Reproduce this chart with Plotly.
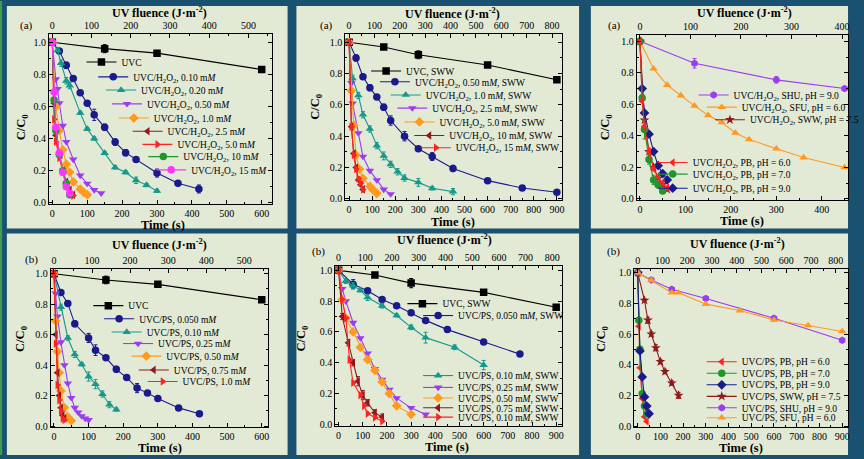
import plotly.graph_objects as go

W, H = 864, 459
FONT = "Liberation Serif"

# ---------------- data (time s, C/C0, error) ----------------
# Panel 1: UVC/H2O2 in PB
p1_uvc_t = [0, 150, 300, 600]
p1_uvc_y = [1.0, 0.96, 0.932, 0.83]
p1_uvc_e = [0, 0.025, 0.01, 0.01]
p1_h010_t = [0, 20, 40, 60, 80, 100, 120, 150, 180, 210, 240, 300, 360, 420]
p1_h010_y = [1.0, 0.945, 0.856, 0.774, 0.686, 0.62, 0.548, 0.47, 0.378, 0.312, 0.269, 0.185, 0.121, 0.086]
p1_h010_e = [0, 0.01, 0.02, 0.015, 0.01, 0.01, 0.035, 0.02, 0.02, 0.02, 0.01, 0.025, 0.015, 0.025]
p1_h020_t = [0, 15, 25, 40, 50, 80, 100, 120, 150, 180, 210, 240, 270, 300]
p1_h020_y = [1.0, 0.95, 0.87, 0.76, 0.73, 0.56, 0.46, 0.40, 0.31, 0.22, 0.19, 0.14, 0.11, 0.074]
p1_h020_e = [0, 0.01, 0.02, 0.02, 0.02, 0.01, 0.01, 0.01, 0.01, 0.01, 0.01, 0.02, 0.01, 0.01]
p1_h050_t = [0, 10, 15, 20, 30, 40, 60, 80, 100, 120, 140]
p1_h050_y = [1.0, 0.77, 0.71, 0.62, 0.48, 0.38, 0.27, 0.17, 0.12, 0.08, 0.06]
p1_h10_t = [0, 10, 20, 30, 40, 50, 60, 80, 90, 100]
p1_h10_y = [1.0, 0.60, 0.45, 0.33, 0.24, 0.19, 0.13, 0.085, 0.065, 0.05]
p1_h25_t = [0, 5, 10, 20, 30, 40, 50, 60]
p1_h25_y = [1.0, 0.62, 0.42, 0.30, 0.20, 0.13, 0.08, 0.05]
p1_h50_t = [0, 5, 10, 20, 30, 40, 50, 60]
p1_h50_y = [1.0, 0.52, 0.38, 0.28, 0.19, 0.11, 0.07, 0.045]
p1_h100_t = [0, 5, 10, 20, 30, 40, 50]
p1_h100_y = [1.0, 0.64, 0.45, 0.30, 0.20, 0.12, 0.05]
p1_h150_t = [0, 5, 10, 20, 30, 40, 50]
p1_h150_y = [1.0, 0.69, 0.47, 0.31, 0.19, 0.10, 0.06]

# Panel 2: UVC/H2O2 in SWW
p2_uvc_t = [0, 150, 300, 600, 900]
p2_uvc_y = [1.0, 0.97, 0.92, 0.855, 0.76]
p2_uvc_e = [0, 0.01, 0.025, 0.01, 0.015]
p2_h050_t = [0, 30, 60, 90, 120, 150, 180, 240, 300, 360, 450, 600, 750, 900]
p2_h050_y = [1.0, 0.90, 0.78, 0.71, 0.65, 0.585, 0.50, 0.40, 0.32, 0.27, 0.194, 0.116, 0.069, 0.042]
p2_h050_e = [0, 0.02, 0.015, 0.02, 0.015, 0.02, 0.03, 0.03, 0.01, 0.025, 0.02, 0.01, 0.01, 0.01]
p2_h10_t = [0, 15, 40, 60, 90, 120, 150, 180, 210, 240, 300, 360, 450]
p2_h10_y = [1.0, 0.77, 0.66, 0.537, 0.446, 0.34, 0.274, 0.22, 0.173, 0.133, 0.105, 0.067, 0.046]
p2_h10_e = [0, 0.02, 0.02, 0.02, 0.02, 0.02, 0.025, 0.02, 0.02, 0.02, 0.025, 0.01, 0.02]
p2_h25_t = [0, 10, 15, 40, 60, 90, 120, 150, 180]
p2_h25_y = [1.0, 0.74, 0.61, 0.42, 0.27, 0.18, 0.12, 0.06, 0.03]
p2_h50_t = [0, 10, 20, 30, 45, 60, 90, 105, 120]
p2_h50_y = [1.0, 0.69, 0.47, 0.28, 0.19, 0.13, 0.08, 0.055, 0.035]
p2_h100_t = [0, 10, 20, 30, 40, 50, 60]
p2_h100_y = [1.0, 0.46, 0.29, 0.20, 0.12, 0.09, 0.06]
p2_h150_t = [0, 10, 20, 30, 40, 50, 60]
p2_h150_y = [1.0, 0.46, 0.28, 0.19, 0.13, 0.10, 0.06]

# Panel 3: UVC/H2O2 in different matrices
p3_shu_t = [0, 120, 300, 450]
p3_shu_y = [1.0, 0.86, 0.755, 0.70]
p3_shu_e = [0, 0.03, 0.02, 0.01]
p3_sfu_t = [0, 30, 60, 90, 120, 150, 180, 210, 240, 300, 360, 450]
p3_sfu_y = [1.0, 0.826, 0.722, 0.655, 0.59, 0.53, 0.485, 0.418, 0.377, 0.318, 0.262, 0.199]
p3_sww_t = [0, 10, 20, 30, 40, 50, 60]
p3_sww_y = [1.0, 0.50, 0.30, 0.20, 0.13, 0.09, 0.06]
p3_pb6_t = [0, 5, 10, 20, 30, 40, 50, 60]
p3_pb6_y = [1.0, 0.62, 0.46, 0.30, 0.19, 0.14, 0.10, 0.07]
p3_pb7_t = [0, 5, 10, 20, 30, 40, 50]
p3_pb7_y = [1.0, 0.64, 0.44, 0.25, 0.12, 0.09, 0.05]
p3_pb7_e = [0, 0.02, 0.06, 0.03, 0.03, 0.02, 0.01]
p3_pb9_t = [0, 5, 10, 20, 30, 40, 50, 60]
p3_pb9_y = [1.0, 0.70, 0.545, 0.41, 0.30, 0.21, 0.16, 0.12]

# Panel 4: UVC/PS in PB
p4_uvc_t = [0, 150, 300, 600]
p4_uvc_y = [1.0, 0.959, 0.93, 0.829]
p4_uvc_e = [0, 0.025, 0.01, 0.01]
p4_p0050_t = [0, 20, 40, 60, 100, 120, 150, 180, 210, 240, 270, 300, 360, 420]
p4_p0050_y = [1.0, 0.877, 0.805, 0.671, 0.578, 0.498, 0.448, 0.372, 0.318, 0.249, 0.216, 0.18, 0.119, 0.08]
p4_p0050_e = [0, 0.01, 0.015, 0.02, 0.03, 0.035, 0.01, 0.02, 0.01, 0.03, 0.01, 0.01, 0.01, 0.01]
p4_p010_t = [0, 20, 40, 60, 80, 100, 120, 140, 160, 180]
p4_p010_y = [1.0, 0.78, 0.578, 0.47, 0.405, 0.325, 0.275, 0.21, 0.14, 0.108]
p4_p010_e = [0, 0.02, 0.015, 0.02, 0.01, 0.03, 0.03, 0.02, 0.02, 0.01]
p4_p025_t = [0, 5, 10, 20, 30, 40, 50, 60, 70, 80, 90, 100]
p4_p025_y = [1.0, 0.87, 0.72, 0.55, 0.40, 0.28, 0.185, 0.12, 0.09, 0.065, 0.05, 0.04]
p4_p050_t = [0, 5, 10, 15, 20, 30, 40, 50]
p4_p050_y = [1.0, 0.69, 0.49, 0.35, 0.23, 0.12, 0.06, 0.035]
p4_p075_t = [0, 5, 10, 15, 20, 25, 30]
p4_p075_y = [1.0, 0.60, 0.35, 0.20, 0.12, 0.07, 0.05]
p4_p100_t = [0, 5, 10, 15, 20, 25, 30]
p4_p100_y = [1.0, 0.54, 0.27, 0.17, 0.10, 0.05, 0.04]

# Panel 5: UVC/PS in SWW
p5_uvc_t = [0, 150, 300, 600, 900]
p5_uvc_y = [1.0, 0.97, 0.917, 0.857, 0.76]
p5_uvc_e = [0, 0.01, 0.03, 0.01, 0.015]
p5_p0050_t = [0, 60, 120, 180, 240, 300, 360, 450, 600, 750]
p5_p0050_y = [1.0, 0.91, 0.867, 0.81, 0.77, 0.724, 0.675, 0.615, 0.535, 0.456]
p5_p0050_e = [0, 0.03, 0.01, 0.01, 0.01, 0.01, 0.01, 0.01, 0.01, 0.01]
p5_p010_t = [0, 30, 60, 90, 120, 180, 240, 300, 360, 480, 600]
p5_p010_y = [1.0, 0.93, 0.90, 0.87, 0.824, 0.77, 0.707, 0.63, 0.563, 0.50, 0.385]
p5_p010_e = [0, 0.015, 0.02, 0.01, 0.02, 0.015, 0.01, 0.015, 0.035, 0.015, 0.03]
p5_p025_t = [0, 15, 30, 60, 90, 120, 150, 180, 210, 240, 300, 360]
p5_p025_y = [1.0, 0.88, 0.80, 0.66, 0.56, 0.46, 0.36, 0.29, 0.225, 0.17, 0.107, 0.064]
p5_p050_t = [0, 15, 30, 60, 90, 120, 150, 180, 210, 240, 300]
p5_p050_y = [1.0, 0.81, 0.69, 0.60, 0.50, 0.42, 0.35, 0.275, 0.20, 0.12, 0.065]
p5_p075_t = [0, 15, 40, 60, 80, 100, 120, 150, 180]
p5_p075_y = [1.0, 0.70, 0.53, 0.40, 0.28, 0.19, 0.14, 0.075, 0.047]
p5_p075_e = [0, 0.02, 0.02, 0.02, 0.03, 0.03, 0.02, 0.02, 0.02]
p5_p100_t = [0, 15, 30, 45, 60, 90, 105, 120, 150, 180]
p5_p100_y = [1.0, 0.81, 0.69, 0.42, 0.27, 0.19, 0.12, 0.07, 0.045, 0.02]

# Panel 6: UVC/PS in different matrices
p6_pb6_t = [0, 5, 10, 20, 30, 40]
p6_pb6_y = [1.0, 0.65, 0.38, 0.18, 0.06, 0.03]
p6_pb7_t = [0, 5, 10, 20, 30, 40]
p6_pb7_y = [1.0, 0.69, 0.50, 0.21, 0.13, 0.08]
p6_pb9_t = [0, 10, 20, 30, 40, 50]
p6_pb9_y = [1.0, 0.49, 0.32, 0.19, 0.13, 0.08]
p6_sww_t = [0, 30, 45, 60, 80, 100, 120, 150, 180]
p6_sww_y = [1.0, 0.82, 0.69, 0.60, 0.51, 0.42, 0.355, 0.28, 0.20]
p6_sww_e = [0, 0.01, 0.02, 0.015, 0.02, 0.015, 0.015, 0.015, 0.02]
p6_shu_t = [0, 60, 150, 300, 600, 900]
p6_shu_y = [1.0, 0.953, 0.892, 0.832, 0.703, 0.559]
p6_sfu_t = [0, 60, 150, 180, 300, 450, 600, 750, 900]
p6_sfu_y = [1.0, 0.95, 0.87, 0.87, 0.795, 0.753, 0.692, 0.656, 0.617]

H2O2 = "UVC/H<sub>2</sub>O<sub>2</sub>"
mM = "m<i>M</i>"

# ---------------- styles ----------------
BLACK = "#000000"; NAVY = "#1a1a8c"; TEAL = "#16998a"; PURPLE = "#9b3cf2"
ORANGE = "#ff9a1f"; DRED = "#8c1a1a"; RED = "#ff2222"; GREEN = "#22962a"; MAGENTA = "#ff33ff"

# series: (panel, name, t, y, err, symbol, color)
series = [
    (1, "UVC", p1_uvc_t, p1_uvc_y, p1_uvc_e, "square", BLACK),
    (1, f"{H2O2}, 0.10 {mM}", p1_h010_t, p1_h010_y, p1_h010_e, "circle", NAVY),
    (1, f"{H2O2}, 0.20 {mM}", p1_h020_t, p1_h020_y, p1_h020_e, "triangle-up", TEAL),
    (1, f"{H2O2}, 0.50 {mM}", p1_h050_t, p1_h050_y, None, "triangle-down", PURPLE),
    (1, f"{H2O2}, 1.0 {mM}", p1_h10_t, p1_h10_y, None, "diamond", ORANGE),
    (1, f"{H2O2}, 2.5 {mM}", p1_h25_t, p1_h25_y, None, "triangle-left", DRED),
    (1, f"{H2O2}, 5.0 {mM}", p1_h50_t, p1_h50_y, None, "triangle-right", RED),
    (1, f"{H2O2}, 10 {mM}", p1_h100_t, p1_h100_y, None, "circle", GREEN),
    (1, f"{H2O2}, 15 {mM}", p1_h150_t, p1_h150_y, None, "circle", MAGENTA),
    (2, "UVC, SWW", p2_uvc_t, p2_uvc_y, p2_uvc_e, "square", BLACK),
    (2, f"{H2O2}, 0.50 {mM}, SWW", p2_h050_t, p2_h050_y, p2_h050_e, "circle", NAVY),
    (2, f"{H2O2}, 1.0 {mM}, SWW", p2_h10_t, p2_h10_y, p2_h10_e, "triangle-up", TEAL),
    (2, f"{H2O2}, 2.5 {mM}, SWW", p2_h25_t, p2_h25_y, None, "triangle-down", PURPLE),
    (2, f"{H2O2}, 5.0 {mM}, SWW", p2_h50_t, p2_h50_y, None, "diamond", ORANGE),
    (2, f"{H2O2}, 10 {mM}, SWW", p2_h100_t, p2_h100_y, None, "triangle-left", DRED),
    (2, f"{H2O2}, 15 {mM}, SWW", p2_h150_t, p2_h150_y, None, "triangle-right", RED),
    (3, f"{H2O2}, SWW, pH = 7.5", p3_sww_t, p3_sww_y, None, "star", DRED),
    (3, f"{H2O2}, SHU, pH = 9.0", p3_shu_t, p3_shu_y, p3_shu_e, "hexagon", PURPLE),
    (3, f"{H2O2}, SFU, pH = 6.0", p3_sfu_t, p3_sfu_y, None, "triangle-up", ORANGE),
    (3, f"{H2O2}, PB, pH = 9.0", p3_pb9_t, p3_pb9_y, None, "diamond", NAVY),
    (3, f"{H2O2}, PB, pH = 7.0", p3_pb7_t, p3_pb7_y, p3_pb7_e, "circle", GREEN),
    (3, f"{H2O2}, PB, pH = 6.0", p3_pb6_t, p3_pb6_y, None, "triangle-left", RED),
    (4, "UVC", p4_uvc_t, p4_uvc_y, p4_uvc_e, "square", BLACK),
    (4, f"UVC/PS, 0.050 {mM}", p4_p0050_t, p4_p0050_y, p4_p0050_e, "circle", NAVY),
    (4, f"UVC/PS, 0.10 {mM}", p4_p010_t, p4_p010_y, p4_p010_e, "triangle-up", TEAL),
    (4, f"UVC/PS, 0.25 {mM}", p4_p025_t, p4_p025_y, None, "triangle-down", PURPLE),
    (4, f"UVC/PS, 0.50 {mM}", p4_p050_t, p4_p050_y, None, "diamond", ORANGE),
    (4, f"UVC/PS, 0.75 {mM}", p4_p075_t, p4_p075_y, None, "triangle-left", DRED),
    (4, f"UVC/PS, 1.0 {mM}", p4_p100_t, p4_p100_y, None, "triangle-right", RED),
    (5, "UVC, SWW", p5_uvc_t, p5_uvc_y, p5_uvc_e, "square", BLACK),
    (5, f"UVC/PS, 0.050 {mM}, SWW", p5_p0050_t, p5_p0050_y, p5_p0050_e, "circle", NAVY),
    (5, f"UVC/PS, 0.10 {mM}, SWW", p5_p010_t, p5_p010_y, p5_p010_e, "triangle-up", TEAL),
    (5, f"UVC/PS, 0.25 {mM}, SWW", p5_p025_t, p5_p025_y, None, "triangle-down", PURPLE),
    (5, f"UVC/PS, 0.50 {mM}, SWW", p5_p050_t, p5_p050_y, None, "diamond", ORANGE),
    (5, f"UVC/PS, 0.75 {mM}, SWW", p5_p075_t, p5_p075_y, p5_p075_e, "triangle-left", DRED),
    (5, f"UVC/PS, 0.10 {mM}, SWW", p5_p100_t, p5_p100_y, None, "triangle-right", RED),
    (6, "UVC/PS, PB, pH = 6.0", p6_pb6_t, p6_pb6_y, None, "triangle-left", RED),
    (6, "UVC/PS, PB, pH = 7.0", p6_pb7_t, p6_pb7_y, None, "circle", GREEN),
    (6, "UVC/PS, PB, pH = 9.0", p6_pb9_t, p6_pb9_y, None, "diamond", NAVY),
    (6, "UVC/PS, SWW, pH = 7.5", p6_sww_t, p6_sww_y, p6_sww_e, "star", DRED),
    (6, "UVC/PS, SHU, pH = 9.0", p6_shu_t, p6_shu_y, None, "hexagon", PURPLE),
    (6, "UVC/PS, SFU, pH = 6.0", p6_sfu_t, p6_sfu_y, None, "triangle-up", ORANGE),
]

# legend sample positions (pixel: start of sample line, vertical centre), same order as series
legend_px = [
    (106, 61.7), (118, 76.7), (126, 90), (132, 104), (139, 118.3), (153, 131.7), (163, 145), (169, 157.3), (177, 170.7),
    (396, 70.7), (405, 81.7), (416, 95), (422.7, 108.3), (430, 122.3), (440, 136), (446.7, 148.3),
    (746.3, 120), (729.7, 95), (738, 107.3), (688, 189.3), (688, 175), (688, 163.3),
    (113, 308), (124, 321.3), (131.7, 334.7), (143.3, 346.3), (151.7, 359), (159.3, 373), (168.3, 384.7),
    (433, 306), (449, 318), (449, 378.7), (449, 390.7), (449, 401.3), (449, 411.3), (449, 420.7),
    (738, 364.7), (738, 376.3), (738, 388), (738, 399.7), (738, 411.3), (738, 421.3),
]

# panel geometry in pixels
panels = [
    dict(left=50, t0=53.3, sx=0.3556, right=277, top=33, y1=41.7, y0=204, bottom=205.5, ratio=0.89),
    dict(left=351.7, t0=355.7, sx=0.2352, right=573, top=33, y1=41.7, y0=200, bottom=201.5, ratio=0.91),
    dict(left=648.7, t0=652, sx=0.4633, right=864, top=34, y1=40.7, y0=200, bottom=201.5, ratio=0.90),
    dict(left=51.7, t0=55, sx=0.3528, right=273, top=270.7, y1=275.7, y0=429.7, bottom=431, ratio=0.91),
    dict(left=341.7, t0=345, sx=0.2463, right=573, top=268, y1=272.3, y0=428, bottom=429.5, ratio=0.905),
    dict(left=646.3, t0=649.7, sx=0.2315, right=864, top=270.7, y1=274.7, y0=429.7, bottom=431, ratio=0.918),
]

bg_rects = [(7, 5, 293, 230), (302, 5, 590, 230), (602, 5, 864, 230),
            (7, 235, 293, 459), (302, 235, 590, 459), (602, 235, 864, 459)]

labels = [
    dict(tag="(a)", tag_xy=(27, 25), fl_xy=(163, 12), tm_xy=(166, 226), cc_xy=(22, 127)),
    dict(tag="(a)", tag_xy=(333, 25), fl_xy=(461, 12.5), tm_xy=(462, 223), cc_xy=(322, 107)),
    dict(tag="(a)", tag_xy=(626, 25), fl_xy=(759, 12), tm_xy=(756, 222), cc_xy=(617, 127)),
    dict(tag="(b)", tag_xy=(32, 261), fl_xy=(162, 246), tm_xy=(163, 452), cc_xy=(22, 341)),
    dict(tag="(b)", tag_xy=(325, 253), fl_xy=(453, 241.5), tm_xy=(455, 450.7), cc_xy=(308, 341)),
    dict(tag="(b)", tag_xy=(625, 253), fl_xy=(751, 245), tm_xy=(755, 452), cc_xy=(614, 341)),
]

def px(x):
    return x / W

def py(y):
    return 1 - y / H

fig = go.Figure()
layout = dict(
    width=W, height=H, margin=dict(l=0, r=0, t=0, b=0),
    paper_bgcolor="#1a5070", plot_bgcolor="rgba(0,0,0,0)",
    font=dict(family=FONT, size=10, color="black"),
    showlegend=True,
)

tickfont = dict(family=FONT, size=10, color="black")
for i, p in enumerate(panels, start=1):
    xd = [px(p["left"]), px(p["right"])]
    yd = [py(p["bottom"]), py(p["top"])]
    tr = [(p["left"] - p["t0"]) / p["sx"], (p["right"] - p["t0"]) / p["sx"]]
    ys = p["y0"] - p["y1"]
    yr = [(p["y0"] - p["bottom"]) / ys, (p["y0"] - p["top"]) / ys]
    fr = [tr[0] * p["ratio"], tr[1] * p["ratio"]]
    common = dict(showline=True, linecolor="black", linewidth=1, ticks="inside", ticklen=4,
                  tickcolor="black", tickfont=tickfont, showgrid=False, zeroline=False)
    layout[f"xaxis{i}"] = dict(domain=xd, range=tr, anchor=f"y{i}", dtick=100, tick0=0,
                               minor=dict(ticks="inside", ticklen=2, dtick=50, tickcolor="black"),
                               **common)
    layout[f"yaxis{i}"] = dict(domain=yd, range=yr, anchor=f"x{i}", dtick=0.2, tick0=0, tickformat=".1f",
                               mirror="ticks",
                               minor=dict(ticks="inside", ticklen=2, dtick=0.1, tickcolor="black"),
                               **common)
    layout[f"xaxis{6 + i}"] = dict(overlaying=f"x{i}", anchor=f"y{i}", side="top", range=fr,
                                   dtick=100, tick0=0,
                                   minor=dict(ticks="inside", ticklen=2, dtick=50, tickcolor="black"),
                                   **common)
    # empty trace so the top (fluence) axis gets drawn
    fig.add_trace(go.Scatter(x=[], y=[], xaxis=f"x{6 + i}", yaxis=f"y{i}", showlegend=False,
                             hoverinfo="skip"))

# background panels
shapes = [dict(type="rect", xref="paper", yref="paper", x0=px(0), x1=px(2.2), y0=0, y1=1,
               fillcolor="#3f9a52", line=dict(width=0), layer="below")]
for (x0, y0, x1, y1) in bg_rects:
    shapes.append(dict(type="rect", xref="paper", yref="paper", x0=px(x0), x1=px(x1),
                       y0=py(y1), y1=py(y0), fillcolor="#e2ead6", line=dict(width=0), layer="below"))
layout["shapes"] = shapes

# traces with one legend each
LEG_OFF = 23
for k, (pan, name, t, y, e, sym, col) in enumerate(series):
    lname = "legend" if k == 0 else f"legend{k + 1}"
    err = dict(type="data", array=e, visible=True, color=col, thickness=1, width=2) if e else None
    fig.add_trace(go.Scatter(
        x=t, y=y, name=name, mode="lines+markers",
        xaxis=f"x{pan}", yaxis=f"y{pan}", legend=lname,
        line=dict(color=col, width=1.1),
        marker=dict(symbol=sym, size=7.5, color=col, line=dict(width=0)),
        error_y=err,
    ))
    lx, ly = legend_px[k]
    layout[lname] = dict(x=px(lx - LEG_OFF), y=py(ly), xanchor="left", yanchor="middle",
                         bgcolor="rgba(0,0,0,0)", borderwidth=0,
                         font=dict(family=FONT, size=9.5, color="black"),
                         itemwidth=30, tracegroupgap=0)

ann = []
base = dict(xref="paper", yref="paper", showarrow=False, xanchor="center", yanchor="middle")
for i, lab in enumerate(labels):
    ann.append(dict(text=lab["tag"], x=px(lab["tag_xy"][0]), y=py(lab["tag_xy"][1]),
                    font=dict(family=FONT, size=11, color="black"), **base))
    ann.append(dict(text="<b>UV fluence (J·m<sup>-2</sup>)</b>", x=px(lab["fl_xy"][0]), y=py(lab["fl_xy"][1]),
                    font=dict(family=FONT, size=12, color="black"), **base))
    ann.append(dict(text="<b>Time (s)</b>", x=px(lab["tm_xy"][0]), y=py(lab["tm_xy"][1]),
                    font=dict(family=FONT, size=12.5, color="black"), **base))
    ann.append(dict(text="<b>C/C<sub>0</sub></b>", x=px(lab["cc_xy"][0]), y=py(lab["cc_xy"][1]), textangle=-90,
                    font=dict(family=FONT, size=12.5, color="black"), **base))
layout["annotations"] = ann

fig.update_layout(**layout)
fig.write_html("out.html")
